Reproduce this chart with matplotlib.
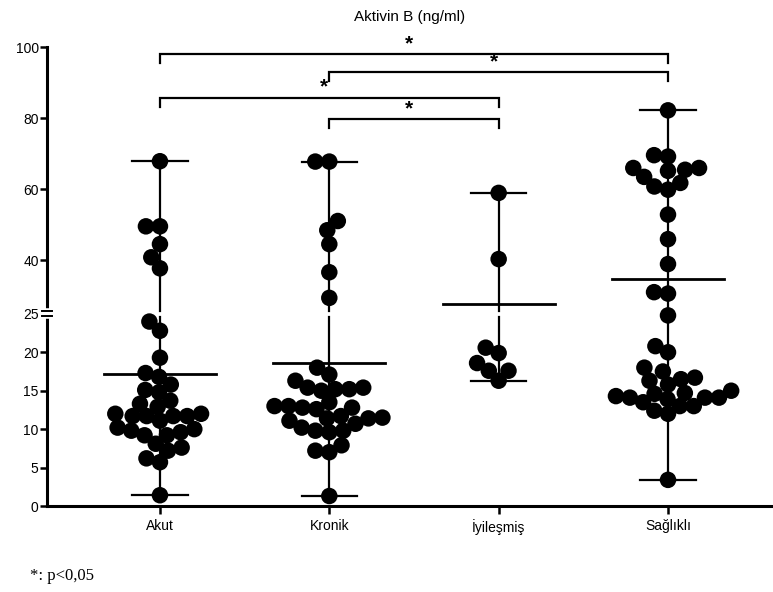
import numpy as np
import matplotlib
matplotlib.use('Agg')
import matplotlib.pyplot as plt
from matplotlib.lines import Line2D
from matplotlib.transforms import IdentityTransform

plt.rcParams['font.family'] = ['Liberation Sans', 'DejaVu Sans']

# values per group (ng/ml)
groups = ['Akut', 'Kronik', 'İyileşmiş', 'Sağlıklı']
akut = [67.9, 49.6, 49.6, 44.6, 40.9, 37.8, 24.0, 22.8, 19.3, 17.3, 16.8, 15.8,
        15.1, 14.8, 13.7, 13.3, 12.9, 12.0, 11.7, 11.7, 11.7, 12.0, 11.7, 11.1,
        9.6, 9.2, 9.8, 10.2, 10.0, 9.2, 8.1, 7.6, 7.2, 6.2, 5.7, 1.4]
kronik = [67.8, 67.8, 51.1, 48.5, 44.6, 36.7, 29.5, 18.0, 17.1, 16.3, 15.2,
          15.4, 15.2, 15.4, 15.0, 13.0, 12.6, 13.0, 13.5, 12.8, 12.8, 11.1,
          11.4, 11.5, 11.7, 11.4, 10.7, 9.6, 9.8, 10.2, 9.8, 7.0, 7.2, 7.9, 1.3]
iyilesmis = [59.0, 40.4, 20.6, 19.9, 18.6, 17.6, 17.6, 16.3]
saglikli = [82.2, 69.6, 69.2, 66.0, 66.0, 65.5, 65.2, 63.5, 61.8, 60.8, 59.9,
            52.9, 46.0, 39.0, 31.1, 30.7, 24.8, 20.8, 20.0, 18.0, 17.5, 16.7,
            16.5, 16.3, 15.8, 15.0, 14.7, 14.6, 14.3, 14.1, 14.1, 14.1, 13.9,
            13.5, 13.0, 13.0, 12.4, 12.0, 3.4]
means = [17.2, 18.6, 27.9, 34.8]

# significance brackets: (group a, group b), bracket height
bracket_pairs = [(0, 3), (1, 3), (0, 2), (1, 2)]
bracket_y = [98.0, 92.9, 85.7, 79.7]

yticks = [0, 5, 10, 15, 20, 25, 40, 60, 80, 100]

# segmented y axis: 0-25 at full scale, 25-100 compressed
BRK = 25
K = 0.463


def fwd(y):
    y = np.asarray(y, dtype=float)
    return np.where(y <= BRK, y, BRK + (y - BRK) * K)


def inv(t):
    t = np.asarray(t, dtype=float)
    return np.where(t <= BRK, t, BRK + (t - BRK) / K)


fig = plt.figure(figsize=(7.73, 5.92), dpi=100)
ax = fig.add_axes([47 / 773, 86 / 592, 1 - 47 / 773, 459 / 592])
ax.set_yscale('function', functions=(fwd, inv))
ax.set_ylim(0, 100)
ax.set_xlim(-0.667, 3.62)

dot_px = 16.5
dot_pt = dot_px * 72 / 100


def swarm(vals, x0, diam):
    # beeswarm offsets in pixels, points placed bottom up as close to centre as possible
    pts = ax.transData.transform(np.column_stack([np.full(len(vals), x0), vals]))
    ys = pts[:, 1]
    offs = np.zeros(len(vals))
    placed = []
    for i in np.argsort(ys):
        y = ys[i]
        cands = [0.0]
        for px, py in placed:
            dy = abs(y - py)
            if dy < diam:
                dx = np.sqrt(diam ** 2 - dy ** 2)
                cands += [px - dx, px + dx]
        cands.sort(key=lambda c: (round(abs(c), 3), c))
        for c in cands:
            if all((c - px) ** 2 + (y - py) ** 2 >= diam ** 2 - 1e-6 for px, py in placed):
                offs[i] = c
                break
        placed.append((offs[i], y))
    return offs


px_per_unit = ax.transData.transform((1, 0))[0] - ax.transData.transform((0, 0))[0]

data = [akut, kronik, iyilesmis, saglikli]
for i, vals in enumerate(data):
    vals = np.array(vals)
    xo = swarm(vals, i, dot_px * 0.85) / px_per_unit
    ax.scatter(i + xo, vals, s=dot_pt ** 2, color='black', edgecolors='none',
               zorder=3, clip_on=False)
    lo, hi = vals.min(), vals.max()
    # range line, broken where the axis is broken
    if hi > BRK:
        ax.plot([i, i], [lo, BRK - 0.4], color='black', lw=1.6, zorder=2)
        ax.plot([i, i], [BRK + 0.8, hi], color='black', lw=1.6, zorder=2)
    else:
        ax.plot([i, i], [lo, hi], color='black', lw=1.6, zorder=2)
    for v in (lo, hi):
        ax.plot([i - 0.164, i + 0.164], [v, v], color='black', lw=1.6, zorder=2)
    ax.plot([i - 0.33, i + 0.33], [means[i], means[i]], color='black', lw=2.0, zorder=4)

# brackets with stars
for (a, b), y in zip(bracket_pairs, bracket_y):
    drop = y - inv(fwd(y) - 1.2)
    ax.plot([a, a, b, b], [y - drop, y, y, y - drop], color='black', lw=1.6,
            clip_on=False, solid_joinstyle='miter')
    ax.text((a + b) / 2 - 0.03, inv(fwd(y) + 0.15), '*', ha='center', va='bottom',
            fontsize=15, fontweight='bold', clip_on=False)

ax.set_yticks(yticks)
ax.set_yticklabels([str(t) for t in yticks])
ax.set_xticks(range(len(groups)))
ax.set_xticklabels(groups)
ax.tick_params(axis='y', length=5, width=1.8, labelsize=10, pad=1)
ax.tick_params(axis='x', length=5.5, width=1.8, labelsize=10, pad=4)
ax.yaxis.get_major_ticks()[yticks.index(BRK)].tick1line.set_visible(False)

for s in ['top', 'right']:
    ax.spines[s].set_visible(False)
for s in ['left', 'bottom']:
    ax.spines[s].set_linewidth(2.2)

# axis break marks at 25
xb, yb = ax.transData.transform((-0.667, BRK))
fig.add_artist(Line2D([xb, xb], [yb - 2.5, yb + 2.5], color='white', lw=4,
                      transform=IdentityTransform(), zorder=5))
for dy in (-2.5, 2.5):
    fig.add_artist(Line2D([xb - 5, xb + 5], [yb + dy, yb + dy], color='black', lw=1.4,
                          transform=IdentityTransform(), zorder=6))

fig.text(410 / 773, 1 - 17 / 592, 'Aktivin B (ng/ml)', ha='center', va='center', fontsize=11)
fig.text(30 / 773, 1 - 576 / 592, '*: p<0,05', ha='left', va='center', fontsize=12,
         family='Liberation Serif')

fig.savefig('out.png', dpi=100)
